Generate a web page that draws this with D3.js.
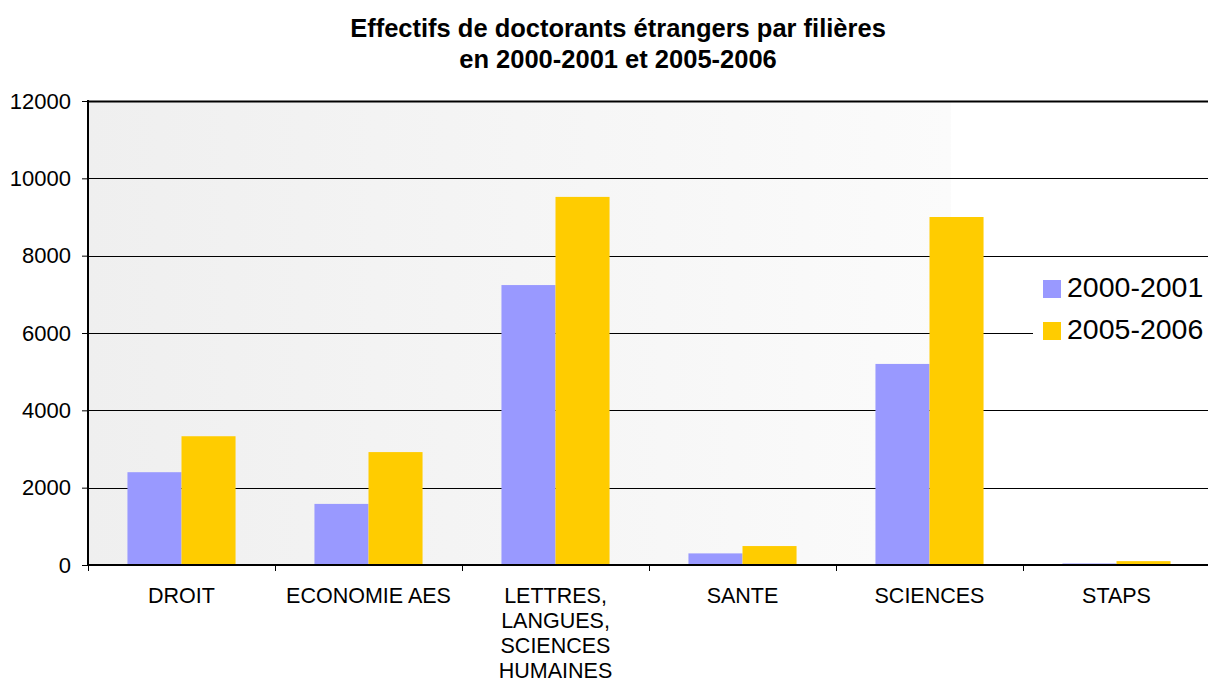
<!DOCTYPE html>
<html><head><meta charset="utf-8">
<script src="https://cdn.jsdelivr.net/npm/d3@7"></script>
<style>body{margin:0;background:#fff;}svg{display:block;font-family:"Liberation Sans",Arial,sans-serif;}</style>
</head><body>
<svg id="c" width="1208" height="684"></svg>
<script>
const categories = [["DROIT"],["ECONOMIE AES"],["LETTRES,","LANGUES,","SCIENCES","HUMAINES"],["SANTE"],["SCIENCES"],["STAPS"]];
const seriesNames = ["2000-2001","2005-2006"];
const values2000 = [2400, 1580, 7240, 300, 5200, 40];
const values2005 = [3330, 2920, 9520, 490, 9000, 100];
const colors = ["#9999ff","#ffcc00"];
const yTicks = [0,2000,4000,6000,8000,10000,12000];

const svg = d3.select("#c");
const m = {l:88, t:101, r:1208, b:565};
const x = d3.scaleBand().domain(d3.range(categories.length)).range([m.l, m.r + 2]).paddingInner(0).paddingOuter(0);
const xi = d3.scaleBand().domain([0,1]).range([0, x.bandwidth()]).paddingInner(0).paddingOuter(0.73);
const y = d3.scaleLinear().domain([0,12000]).range([m.b, m.t]);

const defs = svg.append("defs");
const g = defs.append("linearGradient").attr("id","bg").attr("x1","0").attr("x2","1").attr("y1","0").attr("y2","0");
g.append("stop").attr("offset","0").attr("stop-color","#efefef");
g.append("stop").attr("offset","0.77").attr("stop-color","#fbfbfb");
g.append("stop").attr("offset","0.771").attr("stop-color","#ffffff");
g.append("stop").attr("offset","1").attr("stop-color","#ffffff");

svg.append("rect").attr("x",m.l).attr("y",m.t).attr("width",m.r-m.l).attr("height",m.b-m.t).attr("fill","url(#bg)");

// gridlines
svg.append("g").selectAll("line").data(yTicks.filter(d=>d>0)).join("line")
  .attr("x1",m.l).attr("x2",m.r).attr("y1",d=>Math.round(y(d))+0.5).attr("y2",d=>Math.round(y(d))+0.5)
  .attr("stroke","#000").attr("stroke-width",d=>d===12000?2:1);

// bars
const bars = svg.append("g");
categories.forEach((c,i)=>{
  [values2000[i], values2005[i]].forEach((v,j)=>{
    bars.append("rect").attr("x",x(i)+xi(j)).attr("width",xi.bandwidth())
      .attr("y",y(v)).attr("height",m.b-y(v)).attr("fill",colors[j]);
  });
});

// y axis
const ya = d3.axisLeft(y).tickValues(yTicks).tickSize(6).tickPadding(11).tickFormat(d3.format("d"));
const yg = svg.append("g").attr("transform",`translate(${m.l},0)`).call(ya);
yg.select(".domain").remove();
yg.selectAll("text").attr("font-size",22).attr("fill","#000").style("font-family","Liberation Sans, Arial, sans-serif");
svg.append("line").attr("x1",m.l).attr("x2",m.l).attr("y1",m.t-1).attr("y2",m.b+1).attr("stroke","#000").attr("stroke-width",2);

// x axis
svg.append("line").attr("x1",m.l).attr("x2",m.r).attr("y1",m.b).attr("y2",m.b).attr("stroke","#000").attr("stroke-width",2);
const xTickPos = d3.range(categories.length).map(i=>x(i));
svg.append("g").selectAll("line").data(xTickPos).join("line")
  .attr("x1",d=>Math.round(d)+0.5).attr("x2",d=>Math.round(d)+0.5).attr("y1",m.b).attr("y2",m.b+6).attr("stroke","#000");
const lab = svg.append("g");
categories.forEach((c,i)=>{
  const t = lab.append("text").attr("x",x(i)+x.bandwidth()/2).attr("y",603).attr("text-anchor","middle").attr("font-size",21.5).attr("fill","#000");
  c.forEach((line,k)=>t.append("tspan").attr("x",x(i)+x.bandwidth()/2).attr("dy",k===0?0:25).text(line));
});

// title
const title = svg.append("text").attr("x",618).attr("y",37).attr("text-anchor","middle").attr("font-size",25.5).attr("font-weight","bold");
title.append("tspan").attr("x",618).text("Effectifs de doctorants étrangers par filières");
title.append("tspan").attr("x",618).attr("dy",31).text("en 2000-2001 et 2005-2006");

// legend
const lg = svg.append("g");
lg.append("rect").attr("x",1033).attr("y",262).attr("width",175).attr("height",95).attr("fill","#fff");
seriesNames.forEach((s,j)=>{
  lg.append("rect").attr("x",1043).attr("y",280+j*42).attr("width",18).attr("height",18).attr("fill",colors[j]);
  lg.append("text").attr("x",1067).attr("y",297+j*42).attr("font-size",28.5).attr("fill","#000").text(s);
});
</script>
</body></html>
